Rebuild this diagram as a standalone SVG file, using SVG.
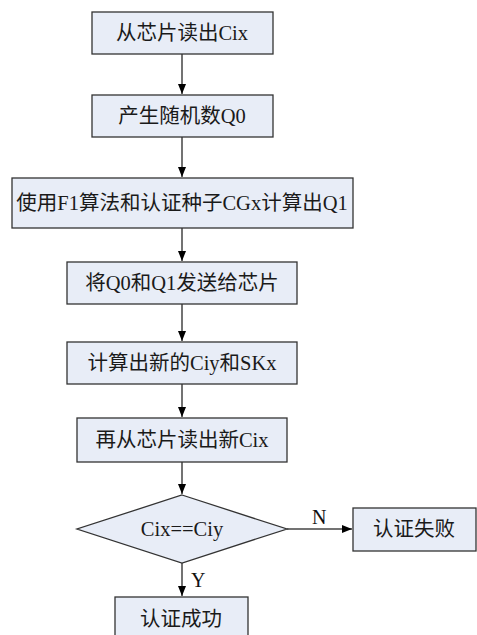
<svg xmlns="http://www.w3.org/2000/svg" width="477" height="635" viewBox="0 0 477 635">
<style>
.box{fill:#e8edf7;stroke:#333;stroke-width:1.3}
.t{font-family:"Liberation Serif","Noto Sans CJK SC",serif;font-size:20.5px;fill:#1a1a1a;text-anchor:middle}
.c{stroke:#444;stroke-width:1.5;fill:none}
.lbl{font-family:"Liberation Serif",serif;font-size:20px;fill:#111}
</style>
<defs>
<marker id="ah" markerWidth="10" markerHeight="12" refX="10" refY="6" orient="auto" markerUnits="userSpaceOnUse">
<path d="M0,2 L10,6 L0,10 z" fill="#000"/>
</marker>
</defs>
<rect width="477" height="635" fill="#fff"/>
<g id="connectors">
<line class="c" x1="182" y1="54" x2="182" y2="94" marker-end="url(#ah)"/>
<line class="c" x1="182" y1="137" x2="182" y2="177" marker-end="url(#ah)"/>
<line class="c" x1="182" y1="228" x2="182" y2="261" marker-end="url(#ah)"/>
<line class="c" x1="182" y1="304" x2="182" y2="341" marker-end="url(#ah)"/>
<line class="c" x1="182" y1="384" x2="182" y2="417" marker-end="url(#ah)"/>
<line class="c" x1="182" y1="462" x2="182" y2="494" marker-end="url(#ah)"/>
<line class="c" x1="182" y1="563" x2="182" y2="596" marker-end="url(#ah)"/>
<line class="c" x1="287" y1="529" x2="352" y2="529" marker-end="url(#ah)"/>
<text class="lbl" x="312" y="524">N</text>
<text class="lbl" x="191" y="587">Y</text>
</g>
<g id="n1"><rect class="box" x="92" y="12" width="181" height="42"/><text class="t" x="182" y="40">从芯片读出Cix</text></g>
<g id="n2"><rect class="box" x="92" y="95" width="181" height="42"/><text class="t" x="182" y="123">产生随机数Q0</text></g>
<g id="n3"><rect class="box" x="12" y="178" width="341" height="50"/><text class="t" x="182" y="210">使用F1算法和认证种子CGx计算出Q1</text></g>
<g id="n4"><rect class="box" x="67" y="262" width="230" height="42"/><text class="t" x="182" y="290">将Q0和Q1发送给芯片</text></g>
<g id="n5"><rect class="box" x="67" y="342" width="230" height="42"/><text class="t" x="182" y="370">计算出新的Ciy和SKx</text></g>
<g id="n6"><rect class="box" x="77" y="418" width="210" height="44"/><text class="t" x="182" y="447">再从芯片读出新Cix</text></g>
<g id="d1"><polygon class="box" points="182,495 287,529 182,563 77,529"/><text class="t" x="182" y="536">Cix==Ciy</text></g>
<g id="n7"><rect class="box" x="353" y="508" width="123" height="43"/><text class="t" x="414" y="536">认证失败</text></g>
<g id="n8"><rect class="box" x="115" y="597" width="133" height="45"/><text class="t" x="181" y="626">认证成功</text></g>
</svg>
